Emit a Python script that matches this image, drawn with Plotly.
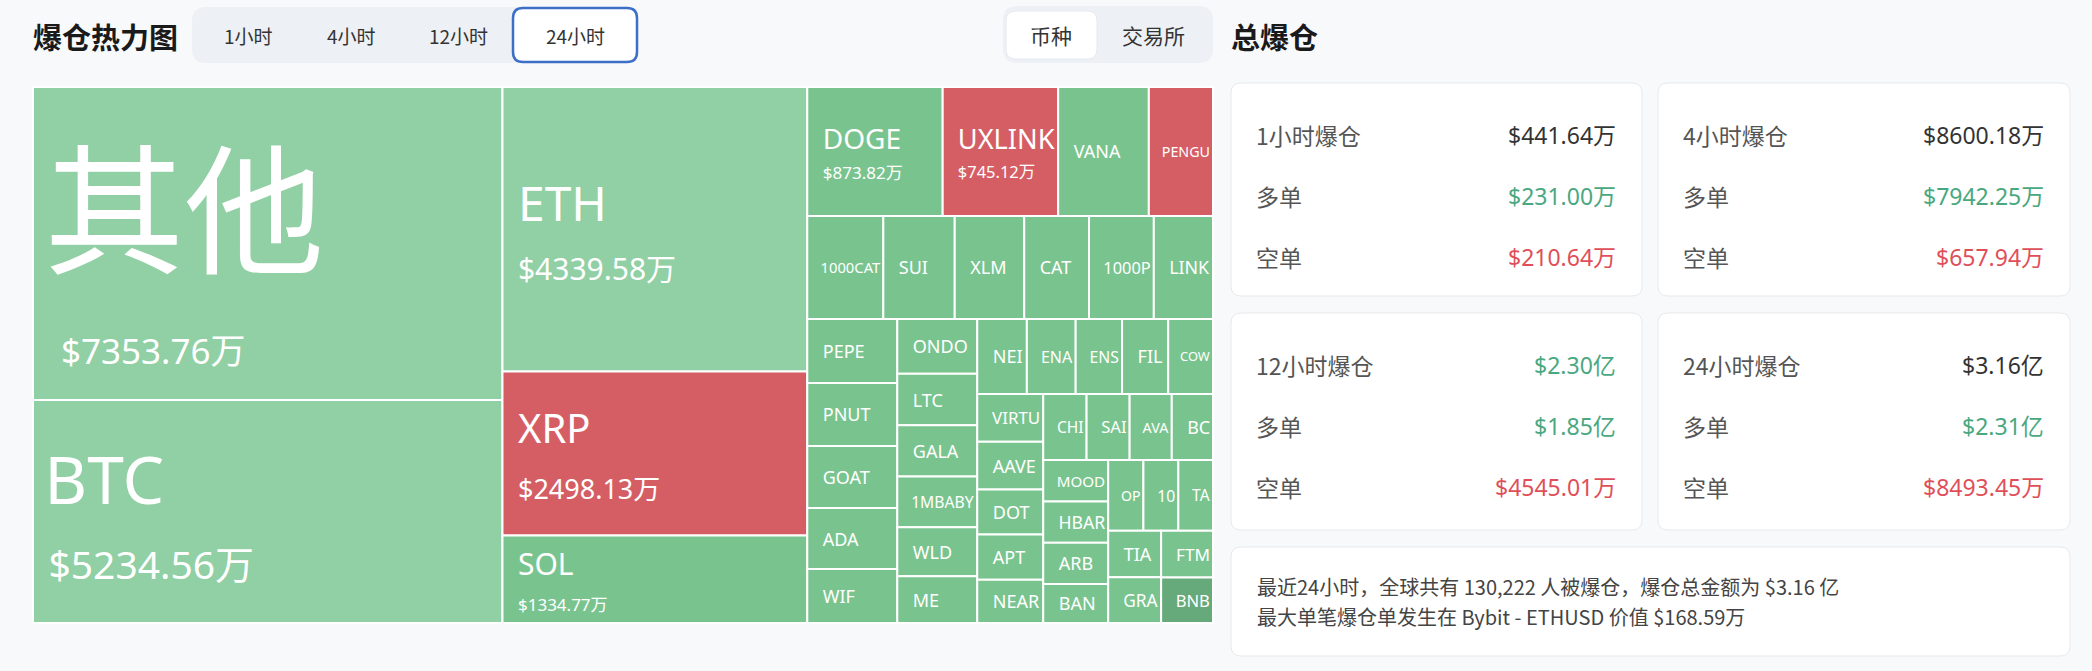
import plotly.graph_objects as go

# ---------------- data ----------------
coins = ["其他", "BTC", "ETH", "XRP", "SOL", "DOGE", "UXLINK", "VANA", "PENGU", "1000CAT",
         "SUI", "XLM", "CAT", "1000P", "LINK", "PEPE", "PNUT", "GOAT", "ADA", "WIF",
         "ONDO", "LTC", "GALA", "1MBABY", "WLD", "ME", "NEI", "ENA", "ENS", "FIL",
         "COW", "VIRTU", "AAVE", "DOT", "APT", "NEAR", "CHI", "SAI", "AVA", "BC",
         "MOOD", "HBAR", "ARB", "BAN", "OP", "10", "TA", "TIA", "GRA", "FTM", "BNB"]
liq_wan = [7353.76, 5234.56, 4339.58, 2498.13, 1334.77, 873.82, 745.12, 585, 414, 392,
           368, 358, 334, 334, 305, 288, 284, 279, 275, 243,
           219, 206, 205, 203, 196, 187, 186, 183, 174, 173,
           168, 158, 157, 149, 149, 143, 143, 142, 139, 136,
           135, 134, 134, 127, 125, 124, 123, 123, 121, 121, 118]
coins_with_value = ["其他", "BTC", "ETH", "XRP", "SOL", "DOGE", "UXLINK"]
short_heavy = ["XRP", "UXLINK", "PENGU"]

periods = ["1小时", "4小时", "12小时", "24小时"]
period_total = ["$441.64万", "$8600.18万", "$2.30亿", "$3.16亿"]
period_long = ["$231.00万", "$7942.25万", "$1.85亿", "$2.31亿"]
period_short = ["$210.64万", "$657.94万", "$4545.01万", "$8493.45万"]

summary_lines = ["最近24小时，全球共有 130,222 人被爆仓，爆仓总金额为 $3.16 亿",
                 "最大单笔爆仓单发生在 Bybit - ETHUSD 价值 $168.59万"]
time_buttons = ["1小时", "4小时", "12小时", "24小时"]
view_buttons = ["币种", "交易所"]
heat_title = "爆仓热力图"
total_title = "总爆仓"

# ---------------- styles ----------------
W, H = 2092, 671
BG = "#f8f9fa"
FONT = "Noto Sans, Noto Sans CJK SC, sans-serif"
CJK = "Noto Sans CJK SC, Noto Sans, sans-serif"
GREEN_LIGHT = "#91cfa4"
GREEN = "#79c48e"
GREEN_DARK = "#66a97a"
RED = "#d55e65"
TXT_GREEN = "#4aa880"
TXT_RED = "#e04f59"
TXT_DARK = "#333333"
TXT_LABEL = "#555555"

light_tiles = ["其他", "BTC", "ETH"]
dark_tiles = ["BNB"]
# (label size, value size, base line size, label pad, value pad)
font_of = {"其他": (140, 35, 78, 2, 6), "BTC": (66, 39, 58, 2, 3), "ETH": (48, 30, 45, 3, 3),
           "XRP": (40, 27, 43, 3, 3), "SOL": (30, 17, 28, 3, 3), "DOGE": (28, 17, 23, 3, 3),
           "UXLINK": (28, 17, 23, 3, 3)}
default_font = (18, 16, 18, 3, 3)


def pad(n):
    return '<span style="font-size:16px">' + "\u00a0" * n + "</span>"


colors, texts, base_sizes = [], [], []
for name, val in zip(coins, liq_wan):
    if name in short_heavy:
        colors.append(RED)
    elif name in light_tiles:
        colors.append(GREEN_LIGHT)
    elif name in dark_tiles:
        colors.append(GREEN_DARK)
    else:
        colors.append(GREEN)
    ls, vs, bs, lp, vp = font_of.get(name, default_font)
    t = f'{pad(lp)}<span style="font-size:{ls}px">{name}</span>'
    if name in coins_with_value:
        t += f'<br>{pad(vp)}<span style="font-size:{vs}px">${val:.2f}万</span>'
    texts.append(t)
    base_sizes.append(bs)

TM_X0, TM_X1, TM_Y0, TM_Y1 = 33, 1213, 87, 623

fig = go.Figure()
fig.add_trace(go.Treemap(
    labels=coins, parents=[""] * len(coins), values=liq_wan,
    sort=True,
    tiling=dict(packing="squarify", squarifyratio=1.618034, pad=0),
    marker=dict(colors=colors, line=dict(color="white", width=2),
                pad=dict(t=0, l=0, r=0, b=0)),
    text=texts, texttemplate="%{text}", textposition="middle left",
    textfont=dict(family=FONT, size=base_sizes, color="white"),
    pathbar=dict(visible=False), root=dict(color=BG),
    domain=dict(x=[TM_X0 / W, TM_X1 / W], y=[1 - TM_Y1 / H, 1 - TM_Y0 / H]),
    hoverinfo="label+value",
))


def X(px):
    return px / W


def Y(py):
    return 1 - py / H


def rrect(x0, y0, x1, y1, r, fill, line=None, lw=0):
    p = (f"M {X(x0 + r)},{Y(y0)} L {X(x1 - r)},{Y(y0)} Q {X(x1)},{Y(y0)} {X(x1)},{Y(y0 + r)} "
         f"L {X(x1)},{Y(y1 - r)} Q {X(x1)},{Y(y1)} {X(x1 - r)},{Y(y1)} "
         f"L {X(x0 + r)},{Y(y1)} Q {X(x0)},{Y(y1)} {X(x0)},{Y(y1 - r)} "
         f"L {X(x0)},{Y(y0 + r)} Q {X(x0)},{Y(y0)} {X(x0 + r)},{Y(y0)} Z")
    return dict(type="path", path=p, xref="paper", yref="paper", fillcolor=fill,
                line=dict(color=line or fill, width=lw), layer="below")


shapes = []
annotations = []


def txt(x, y, s, size, color, anchor="left", family=CJK):
    annotations.append(dict(x=X(x), y=Y(y), xref="paper", yref="paper", text=s,
                            showarrow=False, xanchor=anchor, yanchor="middle",
                            font=dict(size=size, color=color, family=family)))


# header
txt(31, 36, f"<b>{heat_title}</b>", 29, "#1a1a1a")
txt(1229, 36, f"<b>{total_title}</b>", 29, "#1a1a1a")

# time buttons
shapes.append(rrect(192, 7, 638, 63, 14, "#edf0f4"))
shapes.append(rrect(513, 8, 637, 62, 10, "#ffffff", "#3b6fc8", 2.5))
for label, cx in zip(time_buttons, [248, 351, 458, 575]):
    txt(cx, 36, label, 19, TXT_DARK, "center")

# view buttons
shapes.append(rrect(1003, 6, 1213, 63, 14, "#edf0f4"))
shapes.append(rrect(1006, 11, 1097, 59, 10, "#ffffff", "#e6e9ee", 1))
for label, cx in zip(view_buttons, [1051, 1153]):
    txt(cx, 35, label, 21, TXT_DARK, "center")

# stat cards
card_x = [(1231, 1642), (1658, 2070)]
card_y = [(83, 296), (313, 530)]
total_colors = [TXT_DARK, TXT_DARK, TXT_GREEN, TXT_DARK]
for i, per in enumerate(periods):
    x0, x1 = card_x[i % 2]
    y0, y1 = card_y[i // 2]
    shapes.append(rrect(x0, y0, x1, y1, 10, "#ffffff", "#e7e9ec", 1))
    rows = [(f"{per}爆仓", period_total[i], total_colors[i]),
            ("多单", period_long[i], TXT_GREEN),
            ("空单", period_short[i], TXT_RED)]
    for k, (lab, val, col) in enumerate(rows):
        yy = y0 + 52 + k * 61
        txt(x0 + 23, yy, lab, 23, TXT_LABEL)
        txt(x1 - 24, yy, val, 23, col, "right", FONT)

# summary card
shapes.append(rrect(1231, 547, 2070, 656, 10, "#ffffff", "#e7e9ec", 1))
txt(1255, 586, summary_lines[0], 20, "#444444")
txt(1255, 616, summary_lines[1], 20, "#444444")

fig.update_layout(width=W, height=H, margin=dict(l=0, r=0, t=0, b=0),
                  paper_bgcolor=BG, plot_bgcolor=BG, showlegend=False,
                  shapes=shapes, annotations=annotations,
                  font=dict(family=FONT))

fig.write_html("out.html", config={"displayModeBar": False},
               post_script="document.body.style.margin='0px';"
                           "document.body.style.background='#f8f9fa';")
